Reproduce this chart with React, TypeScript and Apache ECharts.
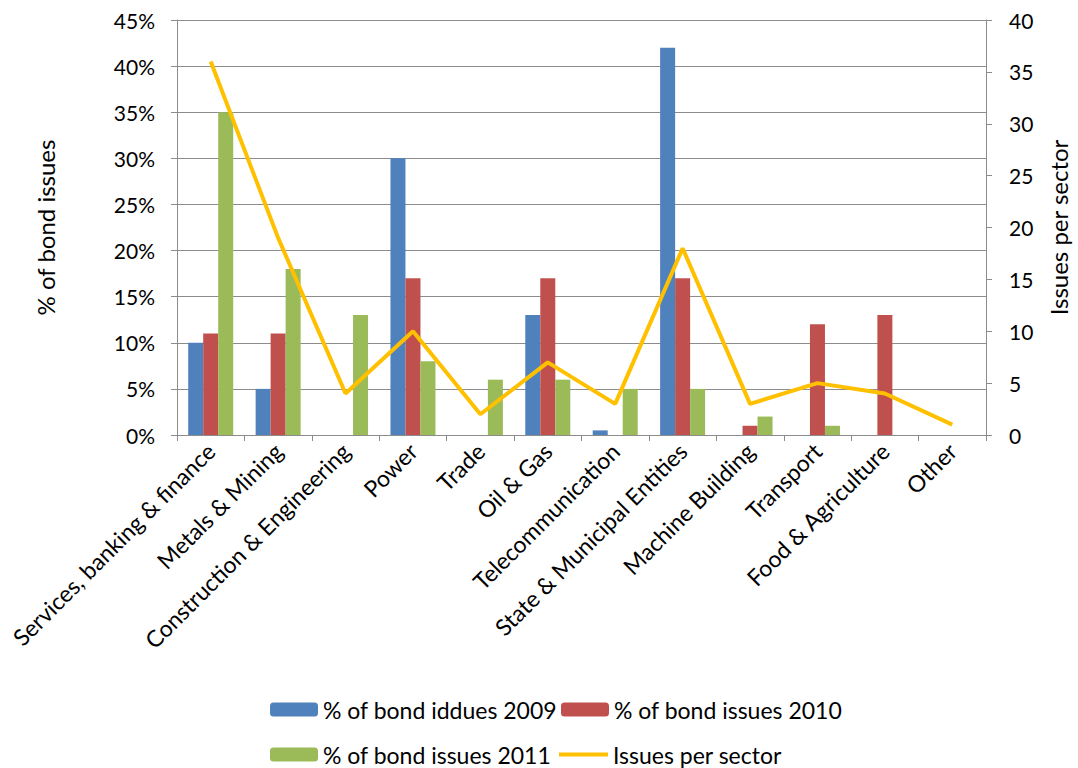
import React, { useEffect, useRef } from "react";
import * as echarts from "echarts";

const categories = [
  "Services, banking & finance",
  "Metals & Mining",
  "Construction & Engineering",
  "Power",
  "Trade",
  "Oil & Gas",
  "Telecommunication",
  "State & Municipal Entities",
  "Machine Building",
  "Transport",
  "Food & Agriculture",
  "Other",
];

// Share of bond issues per sector, in percent
const issues2009 = [10, 5, 0, 30, 0, 13, 0.5, 42, 0, 0, 0, 0];
const issues2010 = [11, 11, 0, 17, 0, 17, 0, 17, 1, 12, 13, 0];
const issues2011 = [35, 18, 13, 8, 6, 6, 5, 5, 2, 1, 0, 0];

// Number of issues per sector
const issuesPerSector = [36, 19, 4, 10, 2, 7, 3, 18, 3, 5, 4, 1];

const leftTicks = { min: 0, max: 45, interval: 5 };
const rightTicks = { min: 0, max: 40, interval: 5 };

const seriesNames = [
  "% of bond iddues 2009",
  "% of bond issues 2010",
  "% of bond issues 2011",
  "Issues per sector",
];

const FONT = "Lato, 'Open Sans', sans-serif";
const GRID_COLOR = "#8c8c8c";

export default function App() {
  const ref = useRef<HTMLDivElement>(null);

  useEffect(() => {
    if (!ref.current) return;
    const chart = echarts.init(ref.current, null, { renderer: "svg" });

    const legendBase = {
      itemWidth: 48,
      itemHeight: 14,
      itemGap: 6,
      padding: 0,
      textStyle: { fontFamily: FONT, fontSize: 23, color: "#000", padding: [0, 0, 0, 0] },
      selectedMode: false,
    };

    const axisLine = { show: true, lineStyle: { color: GRID_COLOR, width: 1 } };

    chart.setOption({
      animation: false,
      backgroundColor: "#fff",
      grid: { left: 177, right: 85, top: 20, bottom: 333 },
      legend: [
        { ...legendBase, data: [seriesNames[0]], left: 270, top: 698 },
        { ...legendBase, data: [seriesNames[1]], left: 561, top: 698 },
        { ...legendBase, data: [seriesNames[2]], left: 270, top: 743 },
        {
          ...legendBase,
          data: [{ name: seriesNames[3], icon: "rect" }],
          left: 559,
          top: 743,
          itemWidth: 49,
          itemHeight: 4,
        },
      ],
      xAxis: {
        type: "category",
        data: categories,
        boundaryGap: true,
        axisLine,
        axisTick: { show: true, length: 6, lineStyle: { color: GRID_COLOR } },
        axisLabel: {
          rotate: 45,
          interval: 0,
          fontFamily: FONT,
          fontSize: 23,
          color: "#000",
          margin: 12,
        },
      },
      yAxis: [
        {
          type: "value",
          ...leftTicks,
          name: "% of bond issues",
          nameLocation: "middle",
          nameGap: 120,
          nameRotate: 90,
          nameTextStyle: { fontFamily: FONT, fontSize: 24, color: "#000" },
          axisLine,
          axisTick: { show: true, length: 6, lineStyle: { color: GRID_COLOR } },
          splitLine: { show: true, lineStyle: { color: GRID_COLOR, width: 1 } },
          axisLabel: {
            formatter: "{value}%",
            fontFamily: FONT,
            fontSize: 21,
            color: "#000",
            margin: 22,
          },
        },
        {
          type: "value",
          ...rightTicks,
          position: "right",
          name: "Issues per sector",
          nameLocation: "middle",
          nameGap: 60,
          nameRotate: 90,
          nameTextStyle: { fontFamily: FONT, fontSize: 24, color: "#000" },
          axisLine,
          axisTick: { show: true, length: 6, lineStyle: { color: GRID_COLOR } },
          splitLine: { show: false },
          axisLabel: {
            fontFamily: FONT,
            fontSize: 21,
            color: "#000",
            margin: 23,
          },
        },
      ],
      series: [
        {
          name: seriesNames[0],
          type: "bar",
          data: issues2009,
          barWidth: 15,
          barGap: "0%",
          itemStyle: { color: "#4F81BD" },
        },
        {
          name: seriesNames[1],
          type: "bar",
          data: issues2010,
          barWidth: 15,
          barGap: "0%",
          itemStyle: { color: "#C0504D" },
        },
        {
          name: seriesNames[2],
          type: "bar",
          data: issues2011,
          barWidth: 15,
          barGap: "0%",
          itemStyle: { color: "#9BBB59" },
        },
        {
          name: seriesNames[3],
          type: "line",
          yAxisIndex: 1,
          data: issuesPerSector,
          symbol: "none",
          lineStyle: { color: "#FFC000", width: 4 },
          itemStyle: { color: "#FFC000" },
          z: 5,
        },
      ],
    });

    return () => chart.dispose();
  }, []);

  return (
    <div
      ref={ref}
      style={{ position: "fixed", left: 0, top: 0, width: 1078, height: 768 }}
    />
  );
}
